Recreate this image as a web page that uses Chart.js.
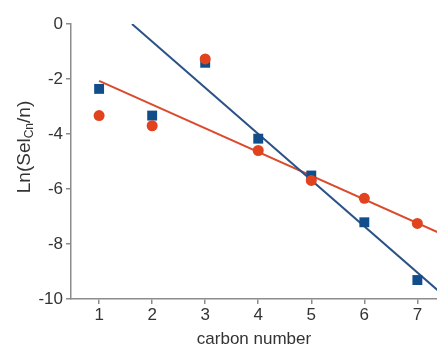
<!DOCTYPE html>
<html>
<head>
<meta charset="utf-8">
<script src="https://cdn.jsdelivr.net/npm/chart.js@4/dist/chart.umd.min.js"></script>
<style>
html,body{margin:0;padding:0;background:#fff;overflow:hidden;}
#wrap{width:437px;height:347px;overflow:hidden;}
</style>
</head>
<body>
<div id="wrap"><canvas id="c" width="444" height="347"></canvas></div>
<script>
const carbonNumbers = [1, 2, 3, 4, 5, 6, 7];
const seriesSquares = [-2.36, -3.33, -1.41, -4.17, -5.51, -7.21, -9.31];
const seriesCircles = [-3.33, -3.70, -1.27, -4.60, -5.69, -6.34, -7.25];
const fitSquaresX = [1.62, 7.5];
const fitSquaresY = [0, -9.88];
const fitCirclesX = [1, 7.5];
const fitCirclesY = [-2.07, -7.67];
const xTicks = [1, 2, 3, 4, 5, 6, 7];
const yTicks = [0, -2, -4, -6, -8, -10];

const BLUE = '#124d8b';
const RED = '#e2431f';
const BLUE_LINE = '#2b5286';
const RED_LINE = '#da4a2c';
const AXIS = '#8c8c8c';
const TXT = '#333333';
const FONT = '"Liberation Sans", Arial, sans-serif';

const pts = (xs, ys) => xs.map((x, i) => ({x: x, y: ys[i]}));

const yTitlePlugin = {
  id: 'yTitle',
  afterDraw(chart) {
    const ctx = chart.ctx;
    ctx.save();
    ctx.translate(25, 147);
    ctx.rotate(-Math.PI / 2);
    ctx.fillStyle = TXT;
    ctx.textBaseline = 'middle';
    const big = '19px ' + FONT, small = '12px ' + FONT;
    const parts = [['Ln(Sel', big, 0], ['Cn', small, 5], ['/n)', big, 0]];
    let total = 0;
    parts.forEach(p => { ctx.font = p[1]; total += ctx.measureText(p[0]).width; });
    let x = -total / 2;
    parts.forEach(p => {
      ctx.font = p[1];
      ctx.textAlign = 'left';
      ctx.fillText(p[0], x, p[2]);
      x += ctx.measureText(p[0]).width;
    });
    ctx.restore();
  }
};

new Chart(document.getElementById('c'), {
  type: 'scatter',
  data: {
    datasets: [
      {
        type: 'line',
        data: pts(fitSquaresX, fitSquaresY),
        borderColor: BLUE_LINE,
        borderWidth: 2,
        pointRadius: 0,
        fill: false,
        order: 3
      },
      {
        type: 'line',
        data: pts(fitCirclesX, fitCirclesY),
        borderColor: RED_LINE,
        borderWidth: 2,
        pointRadius: 0,
        fill: false,
        order: 4
      },
      {
        data: pts(carbonNumbers, seriesSquares),
        pointStyle: 'rect',
        pointRadius: 7,
        backgroundColor: BLUE,
        borderColor: BLUE,
        borderWidth: 0,
        order: 2
      },
      {
        data: pts(carbonNumbers, seriesCircles),
        pointStyle: 'circle',
        pointRadius: 5.5,
        backgroundColor: RED,
        borderColor: RED,
        borderWidth: 0,
        order: 1
      }
    ]
  },
  options: {
    responsive: false,
    animation: false,
    devicePixelRatio: 1,
    layout: {padding: {left: 0, right: 0, top: 24, bottom: 0}},
    plugins: {legend: {display: false}, tooltip: {enabled: false}},
    scales: {
      x: {
        type: 'linear',
        min: 0.47,
        max: 7.37,
        afterBuildTicks(axis) { axis.ticks = xTicks.map(v => ({value: v})); },
        afterFit(scale) { scale.height = 48; },
        grid: {drawOnChartArea: false, drawTicks: true, tickLength: 5, tickColor: AXIS, lineWidth: 1.5},
        border: {color: AXIS, width: 1.5},
        ticks: {color: TXT, font: {family: FONT, size: 17}, padding: 1, maxRotation: 0, autoSkip: false},
        title: {display: true, text: 'carbon number', color: TXT, font: {family: FONT, size: 17}, padding: {top: 0, bottom: -3}}
      },
      y: {
        type: 'linear',
        min: -10,
        max: 0,
        afterBuildTicks(axis) { axis.ticks = yTicks.map(v => ({value: v})); },
        afterFit(scale) { scale.width = 71; },
        grid: {drawOnChartArea: false, drawTicks: true, tickLength: 5, tickColor: AXIS, lineWidth: 1.5},
        border: {color: AXIS, width: 1.5},
        ticks: {color: TXT, font: {family: FONT, size: 17}, padding: 3, autoSkip: false}
      }
    }
  },
  plugins: [yTitlePlugin]
});
</script>
</body>
</html>
